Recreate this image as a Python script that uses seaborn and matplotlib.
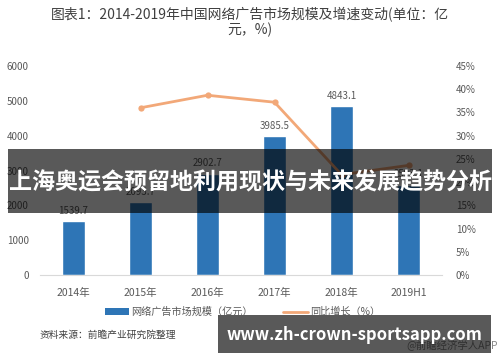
import numpy as np
import pandas as pd
import seaborn as sns
import matplotlib
matplotlib.use("Agg")
import matplotlib.pyplot as plt
from matplotlib.patches import Patch, Rectangle
from matplotlib.lines import Line2D

# data
years = ["2014年", "2015年", "2016年", "2017年", "2018年", "2019H1"]
market_size = [1539.7, 2093.7, 2902.7, 3985.5, 4843.1, 2593.1]
growth = [np.nan, 36.0, 38.7, 37.2, 21.6, 23.6]
left_ticks = [0, 1000, 2000, 3000, 4000, 5000, 6000]
right_ticks = [0, 5, 10, 15, 20, 25, 30, 35, 40, 45]

sns.set_theme(style="white")
plt.rcParams['font.family'] = ['Noto Sans CJK SC', 'DejaVu Sans']

bar_color = "#2e75b6"
line_color = "#f2a878"
txt_gray = "#595959"

df = pd.DataFrame({"year": years, "size": market_size, "growth": growth})
df["pos"] = np.arange(len(df))

fig = plt.figure(figsize=(5, 3.62), dpi=100)
ax = fig.add_axes([0.08, 0.2403, 0.804, 0.5774])

sns.barplot(data=df, x="year", y="size", color=bar_color, width=0.35,
            saturation=1, ax=ax)
ax.set_ylim(0, 6000)
ax.set_yticks(left_ticks)
ax.set_xlim(-0.5, len(years) - 0.5)
ax.set_xlabel("")
ax.set_ylabel("")
ax.tick_params(axis="both", length=0, labelsize=7, colors=txt_gray, pad=8)
ax.tick_params(axis="x", labelsize=7.5, pad=9)
for s in ["top", "left", "right"]:
    ax.spines[s].set_visible(False)
ax.spines["bottom"].set_color("#d9d9d9")
ax.spines["bottom"].set_linewidth(0.8)

for p, v in zip(ax.patches, market_size):
    ax.annotate(f"{v:.1f}", (p.get_x() + p.get_width() / 2, p.get_height()),
                xytext=(0, 4), textcoords="offset points", ha="center",
                va="bottom", fontsize=7, color=txt_gray)

ax2 = ax.twinx()
sns.lineplot(data=df.dropna(), x="pos", y="growth", color=line_color,
             linewidth=2, marker="o", markersize=4.5, markeredgewidth=0, ax=ax2)
ax2.set_ylim(0, 45)
ax2.set_yticks(right_ticks)
ax2.set_yticklabels([f"{t}%" for t in right_ticks])
ax2.set_xlim(-0.5, len(years) - 0.5)
ax2.set_ylabel("")
ax2.tick_params(axis="y", length=0, labelsize=7, colors=txt_gray, pad=10)
for s in ["top", "left", "right", "bottom"]:
    ax2.spines[s].set_visible(False)

fig.text(0.5, 0.938, "图表1：2014-2019年中国网络广告市场规模及增速变动(单位：亿\n元，%)",
         ha="center", va="center", fontsize=10, color="#404040", linespacing=1.05)

handles = [Patch(facecolor=bar_color, edgecolor="none"),
           Line2D([0], [0], color=line_color, linewidth=2)]
fig.legend(handles, ["网络广告市场规模（亿元）", "同比增长（%）"], ncol=2,
           loc="center", bbox_to_anchor=(0.485, 0.138), frameon=False,
           fontsize=7.3, labelcolor=txt_gray, handlelength=2.4,
           handleheight=0.6, columnspacing=3, handletextpad=0.2)

fig.text(0.08, 0.075, "资料来源：前瞻产业研究院整理", fontsize=7,
         color="#404040", va="center", style="italic")
fig.text(0.995, 0.047, "@前瞻经济学人APP", fontsize=7.5, color="#888888",
         ha="right", va="center")

# overlay banners
fig.patches.append(Rectangle((0.016, 0.412), 0.968, 0.177, transform=fig.transFigure,
                             facecolor="black", alpha=0.65, edgecolor="none", zorder=5))
fig.text(0.5, 0.495, "上海奥运会预留地利用现状与未来发展趋势分析", ha="center",
         va="center", fontsize=16.6, fontweight="bold", color="white", zorder=6)
fig.patches.append(Rectangle((0.436, 0.025), 0.546, 0.105, transform=fig.transFigure,
                             facecolor="black", alpha=0.65, edgecolor="none", zorder=5))
fig.text(0.708, 0.075, "www.zh-crown-sportsapp.com", ha="center", va="center",
         fontsize=12, fontweight="bold", color="white", zorder=6)

fig.savefig("out.png", dpi=100)
